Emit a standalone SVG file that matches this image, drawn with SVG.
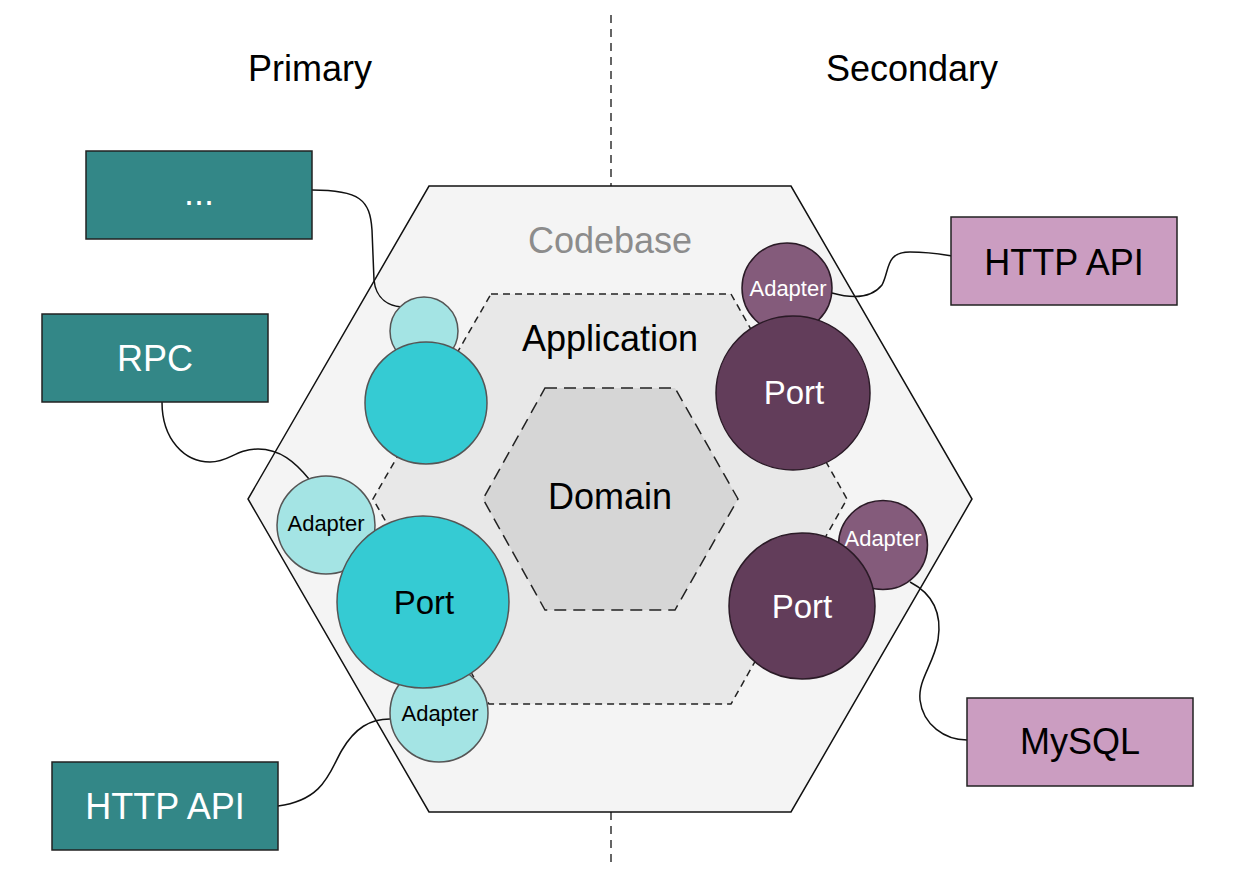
<svg xmlns="http://www.w3.org/2000/svg" width="1242" height="876" viewBox="0 0 1242 876">
<style>
text{font-family:"Liberation Sans",Arial,sans-serif;text-anchor:middle}
.big{font-size:36px}
.port{font-size:33px}
.ad{font-size:22px}
.w{fill:#ffffff}
.k{fill:#000000}
.box1{fill:#338787;stroke:#222;stroke-width:1.5}
.box2{fill:#cb9dc1;stroke:#222;stroke-width:1.5}
.cp{fill:#35cbd3;stroke:#555;stroke-width:1.5}
.ca{fill:#a4e4e4;stroke:#555;stroke-width:1.5}
.pp{fill:#623d5a;stroke:#2a1a26;stroke-width:1.5}
.pa{fill:#845b7b;stroke:#2a1a26;stroke-width:1.5}
.conn{fill:none;stroke:#111;stroke-width:1.5}
</style>
<rect width="1242" height="876" fill="#ffffff"/>
<g id="divider">
<line x1="611" y1="15" x2="611" y2="186" stroke="#333" stroke-width="1.5" stroke-dasharray="8,6"/>
<line x1="611" y1="812" x2="611" y2="862" stroke="#333" stroke-width="1.5" stroke-dasharray="8,6"/>
</g>
<text class="big k" x="310" y="81">Primary</text>
<text class="big k" x="912" y="81">Secondary</text>
<g id="codebase">
<polygon points="429,186 791,186 972,499 791,812 429,812 248,499" fill="#f4f4f4" stroke="#111" stroke-width="1.5"/>
<text class="big" x="610" y="253" fill="#8c8c8c">Codebase</text>
</g>
<g id="application">
<polygon points="491,294 731,294 847,499 731,704 489,704 373,499" fill="#e8e8e8" stroke="#222" stroke-width="1.5" stroke-dasharray="7,5"/>
<text class="big k" x="610" y="351">Application</text>
</g>
<g id="domain">
<polygon points="545,388 675,388 738,499 675,610 545,610 483,499" fill="#d6d6d6" stroke="#222" stroke-width="1.5" stroke-dasharray="12,7"/>
<text class="big k" x="610" y="509">Domain</text>
</g>
<g id="connectors">
<path class="conn" d="M312,190 C360,190 370,200 372,230 L374,280 C376,300 390,306 402,307"/>
<path class="conn" d="M162,402 C162,440 185,462 210,462 C230,462 235,449 258,449 C280,449 295,462 309,479"/>
<path class="conn" d="M278,806 C325,800 330,770 342,750 C355,728 370,719 390,719"/>
<path class="conn" d="M832,293 C850,298 870,300 882,285 C890,270 885,252 910,252 C930,252 940,254 952,256"/>
<path class="conn" d="M910,582 C935,595 942,615 938,640 C933,665 918,680 920,700 C923,725 945,740 967,740"/>
</g>
<g id="box-etc"><rect class="box1" x="86" y="151" width="226" height="88"/><text class="big w" x="199" y="205">...</text></g>
<g id="box-rpc"><rect class="box1" x="42" y="314" width="226" height="88"/><text class="big w" x="155" y="371">RPC</text></g>
<g id="box-http-left"><rect class="box1" x="52" y="762" width="226" height="88"/><text class="big w" x="165" y="819">HTTP API</text></g>
<g id="box-http-right"><rect class="box2" x="951" y="217" width="226" height="88"/><text class="big k" x="1064" y="275">HTTP API</text></g>
<g id="box-mysql"><rect class="box2" x="967" y="698" width="226" height="88"/><text class="big k" x="1080" y="754">MySQL</text></g>
<g id="adapter-left-top"><circle class="ca" cx="424" cy="331" r="34"/></g>
<g id="port-left-top"><circle class="cp" cx="426" cy="403" r="61"/></g>
<g id="adapter-left-mid"><circle class="ca" cx="326" cy="525" r="49"/><text class="ad k" x="326" y="531">Adapter</text></g>
<g id="adapter-left-bottom"><circle class="ca" cx="439" cy="713" r="49"/><text class="ad k" x="440" y="721">Adapter</text></g>
<g id="port-left"><circle class="cp" cx="423" cy="602" r="86"/><text class="port k" x="424" y="614">Port</text></g>
<g id="adapter-right-top"><circle class="pa" cx="787" cy="288" r="45"/><text class="ad w" x="788" y="296">Adapter</text></g>
<g id="port-right-top"><circle class="pp" cx="793" cy="393" r="77"/><text class="port w" x="794" y="404">Port</text></g>
<g id="adapter-right-bottom"><circle class="pa" cx="883" cy="545" r="44.5"/><text class="ad w" x="883" y="546">Adapter</text></g>
<g id="port-right-bottom"><circle class="pp" cx="802" cy="606" r="73"/><text class="port w" x="802" y="618">Port</text></g>
</svg>
